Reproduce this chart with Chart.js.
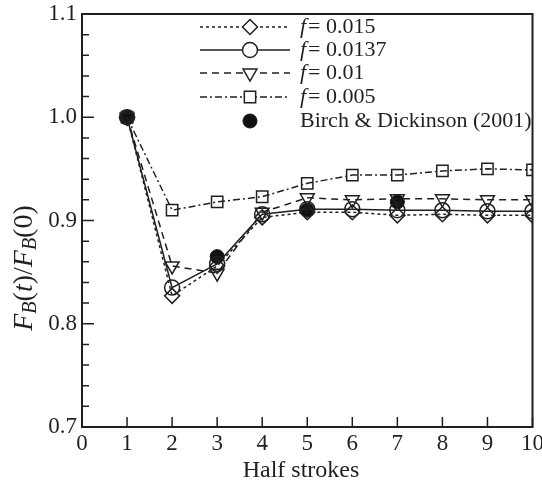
<!DOCTYPE html>
<html>
<head>
<meta charset="utf-8">
<script src="https://cdn.jsdelivr.net/npm/chart.js@4.4.0/dist/chart.umd.min.js"></script>
<style>
  html, body { margin: 0; padding: 0; background: #fff; }
  #wrap { width: 542px; height: 483px; }
</style>
</head>
<body>
<div id="wrap"><canvas id="chart" width="542" height="483"></canvas></div>
<script>
// half strokes on the x axis
const halfStrokes = [1, 2, 3, 4, 5, 6, 7, 8, 9, 10];

// F_B(t)/F_B(0) for each friction factor
const f015  = [1.000, 0.827, 0.856, 0.903, 0.908, 0.908, 0.905, 0.906, 0.905, 0.905];
const f0137 = [1.000, 0.835, 0.858, 0.906, 0.911, 0.911, 0.910, 0.910, 0.909, 0.909];
const f01   = [1.000, 0.856, 0.849, 0.908, 0.922, 0.920, 0.921, 0.921, 0.920, 0.920];
const f005  = [1.000, 0.910, 0.918, 0.923, 0.936, 0.944, 0.944, 0.948, 0.950, 0.949];

// experimental points
const birchX = [1, 3, 5, 7];
const birchY = [1.000, 0.865, 0.910, 0.918];

const xTicks = [0, 1, 2, 3, 4, 5, 6, 7, 8, 9, 10];
const yTicks = [0.7, 0.8, 0.9, 1.0, 1.1];

const ink = '#231f20';
const serif = '"Liberation Serif", "DejaVu Serif", serif';
const clear = 'rgba(0,0,0,0)';

function pts(xs, ys) {
    return xs.map((x, i) => ({ x: x, y: ys[i] }));
}

const seriesStyles = [
    { label: '0.015',  data: f015,  dash: [3, 3],       point: 'rectRot',  radius: 7.5, rot: 0 },
    { label: '0.0137', data: f0137, dash: [],           point: 'circle',   radius: 7.5, rot: 0 },
    { label: '0.01',   data: f01,   dash: [7, 5],       point: 'triangle', radius: 8,   rot: 180 },
    { label: '0.005',  data: f005,  dash: [7, 3, 2, 3], point: 'rect',     radius: 8,   rot: 0 }
];

const datasets = seriesStyles.map(s => ({
    label: 'f = ' + s.label,
    data: pts(halfStrokes, s.data),
    borderColor: ink,
    borderWidth: 1.5,
    borderDash: s.dash,
    pointStyle: s.point,
    pointRadius: s.radius,
    pointRotation: s.rot,
    pointBorderWidth: 1.5,
    pointBorderColor: ink,
    pointBackgroundColor: clear,
    fill: false,
    tension: 0
}));

datasets.push({
    label: 'Birch & Dickinson (2001)',
    data: pts(birchX, birchY),
    showLine: false,
    pointStyle: 'circle',
    pointRadius: 7,
    pointBorderWidth: 1,
    pointBorderColor: '#111',
    pointBackgroundColor: '#111'
});

// frame, inward ticks, axis titles and legend
const decorations = {
    id: 'decorations',
    afterDraw(chart) {
        const c = chart.ctx;
        const a = chart.chartArea;
        const xs = chart.scales.x;
        const ys = chart.scales.y;
        c.save();
        c.strokeStyle = ink;
        c.lineWidth = 2;
        c.setLineDash([]);
        c.strokeRect(a.left, a.top, a.right - a.left, a.bottom - a.top);

        c.lineWidth = 1.5;
        c.beginPath();
        xTicks.forEach(v => {
            const px = xs.getPixelForValue(v);
            c.moveTo(px, a.bottom);
            c.lineTo(px, a.bottom - 10);
        });
        for (let i = 0; i <= 20; i++) {
            const v = 0.7 + i * 0.02;
            const py = ys.getPixelForValue(v);
            const len = (i % 5 === 0) ? 12 : 7;
            c.moveTo(a.left, py);
            c.lineTo(a.left + len, py);
        }
        c.stroke();

        // x title
        c.fillStyle = ink;
        c.font = '24px ' + serif;
        c.textAlign = 'center';
        c.textBaseline = 'middle';
        c.fillText('Half strokes', 301, 471);

        // y title, rotated, with subscripts
        c.save();
        c.translate(25, 268);
        c.rotate(-Math.PI / 2);
        const parts = [
            { t: 'F', f: 'italic 28px ' + serif, dy: 0 },
            { t: 'B', f: 'italic 20px ' + serif, dy: 6 },
            { t: '(', f: '28px ' + serif, dy: 0 },
            { t: 't', f: 'italic 28px ' + serif, dy: 0 },
            { t: ')/', f: '28px ' + serif, dy: 0 },
            { t: 'F', f: 'italic 28px ' + serif, dy: 0 },
            { t: 'B', f: 'italic 20px ' + serif, dy: 6 },
            { t: '(0)', f: '28px ' + serif, dy: 0 }
        ];
        let total = 0;
        parts.forEach(p => { c.font = p.f; total += c.measureText(p.t).width; });
        let x = -total / 2;
        c.textAlign = 'left';
        parts.forEach(p => {
            c.font = p.f;
            c.fillText(p.t, x, p.dy);
            x += c.measureText(p.t).width;
        });
        c.restore();

        // legend
        const rowY = [27, 50, 73, 97, 121];
        chart.data.datasets.forEach((ds, i) => {
            const y = rowY[i];
            if (ds.showLine !== false) {
                c.lineWidth = 1.5;
                c.strokeStyle = ink;
                c.setLineDash(ds.borderDash);
                c.beginPath();
                c.moveTo(200, y);
                c.lineTo(290, y);
                c.stroke();
                c.setLineDash([]);
            }
            c.fillStyle = ds.pointBackgroundColor;
            c.strokeStyle = ds.pointBorderColor;
            c.lineWidth = ds.pointBorderWidth;
            if (ds.pointBackgroundColor === clear) {
                // blank out the line under the open marker
                c.save();
                c.fillStyle = '#fff';
                Chart.helpers.drawPoint(c, {
                    pointStyle: ds.pointStyle, radius: ds.pointRadius,
                    rotation: ds.pointRotation || 0, borderWidth: 0
                }, 250, y);
                c.restore();
            }
            Chart.helpers.drawPoint(c, {
                pointStyle: ds.pointStyle,
                radius: ds.pointRadius,
                rotation: ds.pointRotation || 0,
                borderWidth: ds.pointBorderWidth
            }, 250, y);

            c.fillStyle = ink;
            c.textBaseline = 'middle';
            c.textAlign = 'left';
            if (i < 4) {
                c.font = 'italic 22px ' + serif;
                c.fillText('f', 300, y);
                const w = c.measureText('f').width;
                c.font = '22px ' + serif;
                c.fillText('= ' + seriesStyles[i].label, 300 + w + 2, y);
            } else {
                c.font = '22px ' + serif;
                c.fillText(ds.label, 300, y);
            }
        });
        c.restore();
    }
};

new Chart(document.getElementById('chart'), {
    type: 'line',
    data: { datasets: datasets },
    options: {
        responsive: false,
        animation: false,
        devicePixelRatio: 1,
        layout: { padding: { top: 14, right: 9, left: 0, bottom: 0 } },
        plugins: {
            legend: { display: false },
            tooltip: { enabled: false }
        },
        scales: {
            x: {
                type: 'linear',
                min: 0,
                max: 10,
                afterFit: s => { s.height = 56; s.paddingLeft = 0; s.paddingRight = 0; },
                afterBuildTicks: s => { s.ticks = xTicks.map(v => ({ value: v })); },
                grid: { display: false, drawTicks: false },
                border: { display: false },
                ticks: { color: ink, padding: 3, maxRotation: 0, font: { family: serif, size: 23 } }
            },
            y: {
                type: 'linear',
                min: 0.7,
                max: 1.1,
                afterFit: s => { s.width = 82; s.paddingTop = 0; s.paddingBottom = 0; },
                afterBuildTicks: s => { s.ticks = yTicks.map(v => ({ value: v })); },
                grid: { display: false, drawTicks: false },
                border: { display: false },
                ticks: {
                    color: ink,
                    padding: 5,
                    font: { family: serif, size: 23 },
                    callback: v => v.toFixed(1)
                }
            }
        }
    },
    plugins: [decorations]
});
</script>
</body>
</html>
